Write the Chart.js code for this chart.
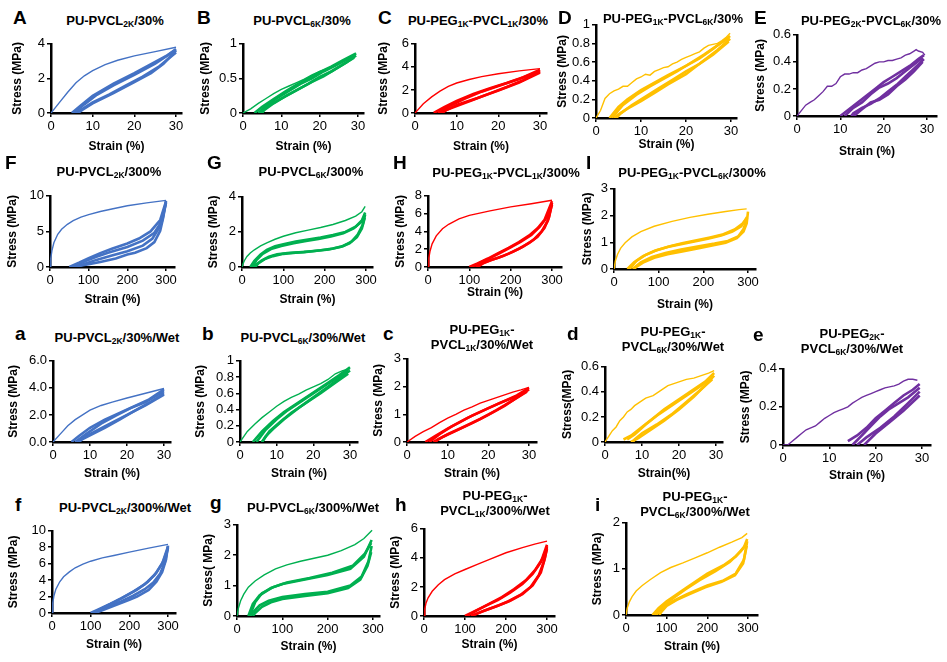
<!DOCTYPE html>
<html>
<head>
<meta charset="utf-8">
<script src="https://cdn.jsdelivr.net/npm/chart.js@4.4.1/dist/chart.umd.min.js"></script>
<style>
  body { margin: 0; width: 947px; height: 662px; background: #fff; position: relative; overflow: hidden; }
  canvas { position: absolute; }
  .ttl { position: absolute; transform: translate(-50%, -50%); font: bold 13px/15px "Liberation Sans", Arial, sans-serif; text-align: center; white-space: nowrap; color: #000; z-index: 2; }
  .ttl sub { font-size: 8.5px; line-height: 0; vertical-align: -2px; }
  .let { position: absolute; transform: translateY(-50%); font: bold 19px/19px "Liberation Sans", Arial, sans-serif; color: #000; z-index: 2; }
</style>
</head>
<body>
<script>
const FONT = '"Liberation Sans", Arial, sans-serif'
Chart.defaults.font.family = FONT

const BLUE = '#4472C4', GREEN = '#00B050', RED = '#FF0000', GOLD = '#FFC000', PURPLE = '#7030A0'

// tick labels
const x30 = ['0', '10', '20', '30']
const x300 = ['0', '100', '200', '300']
const A_y = ['0', '2', '4']
const B_y = ['0', '0.5', '1']
const C_y = ['0', '2', '4', '6']
const D_y = ['0', '0.2', '0.4', '0.6', '0.8', '1']
const E_y = ['0', '0.2', '0.4', '0.6']
const F_y = ['0', '5', '10']
const G_y = ['0', '2', '4']
const H_y = ['0', '2', '4', '6', '8']
const I_y = ['0', '1', '2', '3']
const a_y = ['0.0', '2.0', '4.0', '6.0']
const b_y = ['0', '0.2', '0.4', '0.6', '0.8', '1']
const c_y = ['0', '1', '2', '3']
const d_y = ['0', '0.2', '0.4', '0.6']
const e_y = ['0', '0.2', '0.4']
const f_y = ['0', '2', '4', '6', '8', '10']
const g_y = ['0', '1', '2', '3']
const h_y = ['0', '2', '4', '6']
const i_y = ['0', '1', '2']

// [strain %, stress MPa] - first loading, then later unload / reload cycles
const A_load = [[0,0],[2,0.6],[4,1.2],[6,1.75],[8,2.15],[10,2.45],[13,2.8],[16,3.05],[20,3.3],[25,3.55],[30,3.8]]
const A_unload = [[30,3.6],[27,2.85],[24,2.3],[20,1.78],[15,1.15],[10,0.56],[7.5,0.18],[6.5,0]]
const A_reload = [[5,0],[7,0.4],[10,1.0],[15,1.7],[20,2.3],[25,2.95],[28,3.35],[30,3.7]]
const A_unload2 = [[30,3.5],[26,2.7],[22,2.1],[18,1.6],[14,1.08],[10,0.62],[7,0.15],[6,0]]
const A_reload2 = [[5.5,0],[8,0.5],[11,1.05],[15,1.6],[20,2.2],[25,2.85],[30,3.65]]

const B_load = [[0,0],[2,0.06],[4,0.14],[6,0.21],[8,0.28],[10,0.34],[12,0.39],[14,0.44],[16,0.49],[18,0.55],[20,0.6],[22,0.64],[24,0.69],[26,0.74],[28,0.8],[29.5,0.86]]
const B_unload = [[29.5,0.83],[27,0.73],[24,0.63],[21,0.53],[18,0.45],[15,0.36],[12,0.27],[9,0.18],[6,0.08],[4.5,0]]
const B_reload = [[3,0],[5,0.09],[8,0.2],[11,0.31],[14,0.41],[17,0.5],[20,0.59],[23,0.67],[26,0.76],[29.5,0.86]]
const B_unload2 = [[29,0.8],[26,0.7],[23,0.6],[20,0.52],[17,0.42],[14,0.33],[11,0.24],[8,0.14],[5.5,0.04],[5,0]]
const B_reload2 = [[4,0],[6,0.1],[9,0.22],[12,0.32],[15,0.42],[18,0.5],[21,0.6],[24,0.68],[27,0.77],[29,0.82]]

const C_load = [[0,0],[2,0.8],[4,1.4],[6,1.9],[8,2.3],[10,2.6],[13,2.9],[16,3.15],[20,3.4],[25,3.65],[30,3.85]]
const C_unload = [[30,3.6],[26,2.85],[22,2.25],[18,1.7],[14,1.15],[10,0.6],[7,0.2],[6,0]]
const C_reload = [[4.5,0],[7,0.5],[10,1.05],[14,1.65],[18,2.15],[22,2.6],[26,3.1],[30,3.75]]
const C_unload2 = [[30,3.5],[25,2.65],[20,1.95],[15,1.3],[10,0.7],[7.5,0.25],[6.5,0]]
const C_reload2 = [[5.5,0],[8,0.55],[12,1.25],[16,1.85],[20,2.35],[25,2.95],[30,3.65]]

const D_load = [[0,0],[1,0.08],[2,0.21],[3,0.26],[4,0.29],[5,0.31],[6,0.34],[7,0.34],[8,0.38],[9,0.42],[10,0.44],[11,0.47],[12,0.46],[13,0.5],[14,0.52],[15,0.54],[16,0.55],[17,0.58],[18,0.6],[19,0.63],[20,0.65],[21,0.67],[22,0.69],[23,0.71],[24,0.75],[25,0.78],[26,0.79],[27,0.8],[28,0.83],[29,0.87],[29.8,0.91]]
const D_unload = [[29.8,0.85],[27,0.73],[24,0.62],[20,0.47],[16,0.36],[13,0.27],[10,0.18],[7,0.1],[5,0.04],[4,0]]
const D_reload = [[3,0],[5,0.12],[7,0.2],[10,0.3],[13,0.38],[16,0.46],[20,0.56],[23,0.64],[26,0.74],[29.8,0.88]]
const D_unload2 = [[29.5,0.82],[26,0.68],[23,0.58],[20,0.5],[17,0.41],[14,0.32],[11,0.23],[8,0.14],[5.5,0.05],[4.5,0]]
const D_reload2 = [[3.5,0],[6,0.14],[9,0.25],[12,0.34],[15,0.42],[18,0.5],[21,0.59],[24,0.68],[27,0.78],[29.5,0.86]]

const E_load = [[0,0],[1,0.04],[2,0.08],[3,0.1],[4,0.12],[5,0.15],[6,0.18],[7,0.22],[8,0.22],[9,0.24],[10,0.29],[11,0.31],[12,0.31],[13,0.32],[14,0.32],[15,0.34],[16,0.35],[17,0.37],[18,0.39],[19,0.4],[20,0.4],[21,0.41],[22,0.41],[23,0.42],[24,0.43],[25,0.45],[26,0.46],[27,0.48],[27.5,0.49],[28,0.48],[29,0.47],[29.5,0.45]]
const E_unload = [[29.3,0.42],[27,0.35],[25,0.29],[23,0.23],[21,0.18],[19,0.13],[17,0.09],[15,0.06],[13,0.02],[12.5,0]]
const E_reload = [[10,0],[12,0.05],[14,0.1],[16,0.15],[18,0.2],[20,0.25],[22,0.29],[24,0.33],[26,0.37],[28,0.42],[29.3,0.45]]
const E_unload2 = [[29,0.4],[27,0.33],[25,0.27],[23,0.22],[21,0.16],[19,0.12],[17,0.1],[15,0.05],[13.5,0.01],[13,0]]
const E_reload2 = [[11,0],[13,0.06],[15,0.1],[17,0.16],[19,0.21],[21,0.24],[23,0.28],[25,0.33],[27,0.38],[29,0.43]]

const F_load = [[0,0],[2,1.2],[5,2.3],[10,3.4],[20,4.6],[30,5.3],[45,6.0],[60,6.5],[80,7.0],[100,7.35],[130,7.8],[160,8.15],[200,8.6],[250,9.0],[300,9.35]]
const F_unload = [[300,9.3],[293,7.0],[285,5.1],[270,3.5],[250,2.65],[220,2.0],[200,1.75],[170,1.2],[130,0.7],[100,0.4],[70,0.1],[55,0]]
const F_reload = [[50,0],[75,0.6],[100,1.25],[130,1.95],[160,2.55],[200,3.3],[230,4.0],[260,5.0],[285,6.6],[300,9.2]]
const F_unload2 = [[300,9.1],[292,7.2],[282,5.5],[265,4.0],[240,3.0],[200,2.2],[160,1.6],[120,1.0],[90,0.45],[70,0]]
const F_reload2 = [[60,0],[90,0.8],[120,1.45],[150,2.0],[200,2.8],[240,3.7],[270,4.8],[290,6.5],[300,9.0]]

const G_load = [[0,0],[3,0.22],[6,0.37],[12,0.6],[20,0.8],[30,0.98],[45,1.2],[60,1.38],[80,1.58],[100,1.75],[130,1.95],[160,2.1],[190,2.25],[220,2.42],[250,2.65],[275,2.9],[290,3.15],[298,3.45]]
const G_unload = [[298,3.0],[292,2.4],[280,1.85],[265,1.45],[245,1.2],[220,1.05],[190,0.95],[150,0.85],[110,0.8],[85,0.72],[65,0.58],[48,0.38],[35,0.15],[28,0]]
const G_reload = [[20,0],[30,0.35],[45,0.72],[60,0.98],[80,1.18],[100,1.3],[130,1.45],[160,1.57],[190,1.68],[220,1.82],[250,2.0],[275,2.3],[290,2.65],[298,3.1]]
const G_unload2 = [[297,2.8],[290,2.2],[278,1.7],[260,1.35],[240,1.15],[210,1.0],[170,0.9],[130,0.82],[100,0.75],[75,0.62],[55,0.45],[40,0.22],[32,0]]
const G_reload2 = [[25,0],[35,0.4],[50,0.75],[70,1.02],[95,1.2],[125,1.35],[155,1.48],[185,1.6],[215,1.74],[245,1.92],[270,2.2],[288,2.55],[297,2.9]]

const H_load = [[0,0],[2,1.0],[5,1.8],[10,2.6],[20,3.5],[35,4.3],[50,4.8],[75,5.4],[100,5.8],[150,6.3],[200,6.75],[250,7.1],[300,7.5]]
const H_unload = [[300,7.2],[293,5.6],[282,4.4],[265,3.4],[245,2.7],[220,2.05],[195,1.5],[170,1.05],[150,0.75],[130,0.4],[115,0]]
const H_reload = [[100,0],[120,0.4],[145,0.95],[170,1.55],[195,2.15],[220,2.8],[245,3.55],[265,4.35],[282,5.3],[300,7.4]]
const H_unload2 = [[300,7.0],[290,5.2],[275,4.0],[255,3.05],[230,2.3],[205,1.7],[180,1.2],[155,0.8],[135,0.45],[120,0]]
const H_reload2 = [[105,0],[125,0.45],[150,1.0],[175,1.6],[200,2.2],[225,2.85],[250,3.6],[270,4.5],[288,5.6],[300,7.2]]

const I_load = [[0,0],[3,0.3],[8,0.55],[15,0.78],[25,0.98],[40,1.2],[60,1.4],[90,1.6],[130,1.78],[170,1.93],[210,2.05],[250,2.15],[280,2.22],[297,2.25]]
const I_unload = [[300,2.15],[297,1.7],[290,1.4],[275,1.15],[250,0.98],[220,0.88],[190,0.78],[150,0.65],[120,0.55],[90,0.42],[65,0.24],[50,0.08],[45,0]]
const I_reload = [[30,0],[45,0.25],[65,0.48],[90,0.67],[120,0.82],[150,0.93],[180,1.03],[210,1.13],[240,1.25],[265,1.4],[285,1.6],[298,1.95]]
const I_unload2 = [[298,1.9],[290,1.5],[278,1.22],[255,1.05],[225,0.95],[190,0.85],[150,0.73],[115,0.6],[85,0.45],[60,0.25],[45,0.05],[42,0]]
const I_reload2 = [[35,0],[50,0.3],[70,0.52],[95,0.7],[125,0.85],[155,0.97],[185,1.07],[215,1.18],[245,1.3],[270,1.48],[288,1.7],[298,1.9]]

const a_load = [[0,0],[2,0.6],[4,1.2],[6,1.65],[8,2.0],[10,2.35],[13,2.7],[16,2.95],[20,3.25],[25,3.6],[30,3.95]]
const a_unload = [[30,3.6],[26,2.9],[22,2.3],[18,1.65],[14,1.05],[10,0.5],[8,0.22],[7,0]]
const a_reload = [[5,0],[7,0.45],[10,1.05],[14,1.65],[18,2.15],[22,2.65],[26,3.15],[30,3.9]]
const a_unload2 = [[30,3.5],[25,2.7],[20,2.0],[15,1.3],[11,0.72],[8,0.3],[6.5,0]]
const a_reload2 = [[6,0],[9,0.6],[13,1.35],[17,1.95],[21,2.5],[25,2.95],[30,3.75]]

const b_load = [[0,0],[2,0.13],[4,0.22],[6,0.3],[8,0.37],[10,0.44],[12,0.5],[14,0.55],[16,0.59],[18,0.64],[20,0.68],[22,0.72],[24,0.77],[26,0.84],[28,0.88],[30,0.9]]
const b_unload = [[30,0.88],[27,0.78],[24,0.68],[20,0.55],[16,0.42],[12,0.28],[9,0.16],[7,0.07],[6,0]]
const b_reload = [[3.5,0],[6,0.13],[9,0.26],[12,0.37],[16,0.49],[20,0.61],[24,0.73],[27,0.82],[30,0.92]]
const b_unload2 = [[29.5,0.84],[26,0.73],[22,0.6],[18,0.48],[14,0.36],[11,0.25],[8,0.13],[6.5,0.03],[6,0]]
const b_reload2 = [[4.5,0],[7,0.15],[10,0.28],[13,0.39],[17,0.51],[21,0.63],[25,0.75],[29.5,0.88]]

const c_load = [[0,0],[2,0.2],[4,0.37],[6,0.52],[8,0.7],[10,0.86],[12,1.0],[14,1.15],[16,1.27],[18,1.4],[20,1.5],[22,1.6],[24,1.7],[26,1.8],[28,1.88],[30,1.97]]
const c_unload = [[30,1.9],[27,1.6],[24,1.3],[20,0.98],[16,0.68],[12,0.4],[9,0.2],[6.5,0]]
const c_reload = [[4.5,0],[7,0.22],[10,0.48],[13,0.72],[16,0.95],[20,1.22],[24,1.48],[27,1.68],[30,1.95]]
const c_unload2 = [[29.5,1.82],[26,1.5],[22,1.15],[18,0.83],[14,0.55],[10,0.28],[7.5,0.08],[7,0]]
const c_reload2 = [[5.5,0],[8,0.28],[11,0.56],[15,0.88],[19,1.15],[23,1.42],[27,1.65],[29.5,1.88]]

const d_load = [[0,0],[2,0.09],[3,0.12],[4,0.17],[5,0.2],[6,0.24],[7,0.26],[8,0.29],[9,0.31],[10,0.33],[11,0.35],[12,0.36],[13,0.37],[14,0.39],[15,0.41],[16,0.43],[17,0.45],[18,0.46],[19,0.47],[20,0.48],[22,0.5],[24,0.51],[26,0.53],[28,0.55],[29.5,0.57]]
const d_unload = [[29.5,0.53],[27,0.45],[24,0.36],[20,0.26],[16,0.17],[12,0.09],[9,0.03],[7,0]]
const d_reload = [[5,0.02],[7,0.05],[10,0.12],[13,0.19],[16,0.26],[20,0.34],[24,0.42],[27,0.48],[29.5,0.55]]
const d_unload2 = [[29,0.5],[26,0.42],[22,0.32],[18,0.22],[14,0.14],[10,0.07],[8,0.02],[7.5,0]]
const d_reload2 = [[6,0.02],[8,0.06],[11,0.14],[14,0.21],[18,0.29],[22,0.37],[26,0.45],[29,0.52]]

const e_load = [[0,0],[1,0],[2,0.02],[3,0.04],[4,0.06],[5,0.08],[6,0.09],[7,0.1],[8,0.12],[9,0.14],[10,0.155],[11,0.17],[12,0.18],[13,0.19],[14,0.2],[15,0.22],[16,0.235],[17,0.25],[18,0.26],[19,0.27],[20,0.28],[21,0.29],[22,0.3],[23,0.305],[24,0.31],[25,0.32],[26,0.335],[27,0.345],[28,0.345],[29,0.34]]
const e_unload = [[29.5,0.28],[27,0.22],[24,0.15],[21,0.09],[18,0.04],[16,0]]
const e_reload = [[14,0.02],[16,0.05],[18,0.09],[20,0.14],[22,0.18],[24,0.22],[26,0.26],[28,0.29],[29.5,0.32]]
const e_unload2 = [[29.5,0.26],[26,0.18],[23,0.12],[20,0.06],[17.5,0]]
const e_reload2 = [[15,0],[17,0.05],[19,0.1],[21,0.15],[23,0.19],[25,0.22],[27,0.25],[29.5,0.3]]

const f_load = [[0,0],[2,1.2],[5,2.1],[10,2.9],[20,3.8],[30,4.4],[45,5.0],[60,5.5],[80,5.95],[100,6.3],[130,6.7],[160,7.0],[200,7.4],[250,7.9],[300,8.35]]
const f_unload = [[300,8.2],[295,6.5],[285,5.0],[270,3.8],[250,2.8],[220,2.0],[200,1.6],[170,1.05],[140,0.5],[120,0.15],[115,0]]
const f_reload = [[100,0],[120,0.45],[150,1.1],[180,1.8],[210,2.6],[240,3.5],[265,4.6],[285,6.0],[300,8.1]]
const f_unload2 = [[300,8.0],[292,6.2],[280,4.8],[262,3.7],[240,2.9],[210,2.1],[180,1.45],[150,0.85],[125,0.35],[110,0]]
const f_reload2 = [[105,0],[130,0.6],[160,1.3],[190,2.05],[220,2.85],[248,3.8],[270,4.9],[288,6.3],[300,7.9]]

const g_load = [[0,0],[3,0.25],[8,0.5],[15,0.72],[25,0.95],[40,1.15],[60,1.35],[85,1.55],[110,1.68],[140,1.8],[170,1.9],[200,2.0],[230,2.15],[260,2.35],[280,2.55],[298,2.82]]
const g_unload = [[297,2.3],[290,1.8],[275,1.3],[250,1.0],[200,0.8],[150,0.72],[100,0.62],[70,0.5],[50,0.35],[35,0.12],[30,0]]
const g_reload = [[25,0],[35,0.4],[50,0.68],[75,0.92],[100,1.05],[150,1.2],[200,1.35],[250,1.55],[280,1.95],[297,2.5]]
const g_unload2 = [[296,2.1],[288,1.65],[272,1.2],[245,0.92],[200,0.75],[150,0.66],[100,0.56],[75,0.45],[55,0.3],[40,0.1],[35,0]]
const g_reload2 = [[28,0],[40,0.45],[55,0.75],[80,0.95],[110,1.1],[160,1.25],[210,1.42],[255,1.65],[282,2.05],[296,2.4]]

const h_load = [[0,0],[2,0.5],[5,0.9],[10,1.25],[20,1.7],[35,2.15],[50,2.5],[75,2.9],[100,3.2],[130,3.55],[160,3.9],[200,4.35],[240,4.7],[270,4.95],[300,5.15]]
const h_unload = [[300,4.8],[295,4.0],[285,3.0],[265,2.1],[240,1.5],[210,1.05],[180,0.7],[150,0.4],[125,0.12],[115,0]]
const h_reload = [[100,0],[125,0.35],[150,0.7],[180,1.1],[210,1.6],[240,2.2],[265,2.9],[285,3.7],[300,4.9]]
const h_unload2 = [[300,4.6],[292,3.7],[280,2.8],[260,2.0],[235,1.45],[205,1.0],[175,0.65],[145,0.35],[120,0.05],[118,0]]
const h_reload2 = [[105,0],[130,0.4],[160,0.85],[190,1.3],[220,1.85],[250,2.5],[272,3.2],[290,4.0],[300,4.7]]

const i_load = [[0,0],[3,0.15],[8,0.28],[15,0.4],[25,0.52],[40,0.64],[60,0.77],[85,0.92],[110,1.03],[140,1.13],[170,1.24],[200,1.35],[230,1.47],[260,1.58],[285,1.68],[298,1.77]]
const i_unload = [[298,1.6],[290,1.2],[270,0.9],[240,0.75],[200,0.64],[150,0.45],[120,0.32],[100,0.22],[85,0.12],[75,0]]
const i_reload = [[65,0],[80,0.15],[100,0.3],[125,0.45],[150,0.6],[200,0.9],[240,1.08],[270,1.27],[290,1.47],[298,1.65]]
const i_unload2 = [[297,1.5],[288,1.12],[268,0.86],[235,0.72],[195,0.6],[155,0.45],[125,0.33],[100,0.2],[88,0.08],[82,0]]
const i_reload2 = [[70,0],[90,0.2],[115,0.36],[145,0.55],[180,0.75],[220,0.95],[255,1.15],[282,1.38],[297,1.55]]

const panels = [
  { letter: 'A', at: [13, 17], title: 'PU-PVCL<sub>2K</sub>/30%', tAt: [115, 20], color: BLUE,
    curves: [A_load, A_unload, A_reload, A_unload2, A_reload2], x: x30, y: A_y, box: [51, 42, 113, 176, 182], yOff: 34, xOff: 34 },
  { letter: 'B', at: [197, 17], title: 'PU-PVCL<sub>6K</sub>/30%', tAt: [302, 20], color: GREEN,
    curves: [B_load, B_unload, B_reload, B_unload2, B_reload2], x: x30, y: B_y, box: [243, 42, 113, 358, 364], yOff: 38, xOff: 34 },
  { letter: 'C', at: [378, 17], title: 'PU-PEG<sub>1K</sub>-PVCL<sub>1K</sub>/30%', tAt: [478, 20], color: RED,
    curves: [C_load, C_unload, C_reload, C_unload2, C_reload2], x: x30, y: C_y, box: [415, 42, 113, 540, 547], yOff: 32, xOff: 34 },
  { letter: 'D', at: [558, 17], title: 'PU-PEG<sub>1K</sub>-PVCL<sub>6K</sub>/30%', tAt: [673, 18], color: GOLD,
    curves: [D_load, D_unload, D_reload, D_unload2, D_reload2], x: x30, y: D_y, box: [596, 23, 118, 731, 737], yOff: 34, xOff: 27 },
  { letter: 'E', at: [754, 17], title: 'PU-PEG<sub>2K</sub>-PVCL<sub>6K</sub>/30%', tAt: [871, 20], color: PURPLE,
    curves: [E_load, E_unload, E_reload, E_unload2, E_reload2], x: x30, y: E_y, box: [797, 33, 116, 927, 937], yOff: 37, xOff: 36 },
  { letter: 'F', at: [5, 162], title: 'PU-PVCL<sub>2K</sub>/300%', tAt: [109, 171], color: BLUE,
    curves: [F_load, F_unload, F_reload, F_unload2, F_reload2], x: x300, y: F_y, box: [50, 194, 267, 166, 175], yOff: 38, xOff: 33 },
  { letter: 'G', at: [207, 162], title: 'PU-PVCL<sub>6K</sub>/300%', tAt: [311, 171], color: GREEN,
    curves: [G_load, G_unload, G_reload, G_unload2, G_reload2], x: x300, y: G_y, box: [242, 195, 267, 366, 373], yOff: 29, xOff: 33 },
  { letter: 'H', at: [393, 162], title: 'PU-PEG<sub>1K</sub>-PVCL<sub>1K</sub>/300%', tAt: [506, 172], color: RED,
    curves: [H_load, H_unload, H_reload, H_unload2, H_reload2], x: x300, y: H_y, box: [428, 194, 267, 552, 562], yOff: 28, xOff: 26 },
  { letter: 'I', at: [586, 162], title: 'PU-PEG<sub>1K</sub>-PVCL<sub>6K</sub>/300%', tAt: [692, 172], color: GOLD,
    curves: [I_load, I_unload, I_reload, I_unload2, I_reload2], x: x300, y: I_y, box: [614, 187, 269, 748, 756], yOff: 27, xOff: 36 },
  { letter: 'a', at: [15, 333], title: 'PU-PVCL<sub>2K</sub>/30%/Wet', tAt: [117, 337], color: BLUE,
    curves: [a_load, a_unload, a_reload, a_unload2, a_reload2], x: x30, y: a_y, box: [53, 359, 442, 164, 171], yOff: 40, xOff: 32 },
  { letter: 'b', at: [202, 333], title: 'PU-PVCL<sub>6K</sub>/30%/Wet', tAt: [303, 337], color: GREEN,
    curves: [b_load, b_unload, b_reload, b_unload2, b_reload2], x: x30, y: b_y, box: [240, 359, 442, 350, 358], yOff: 40, xOff: 32 },
  { letter: 'c', at: [383, 333], title: 'PU-PEG<sub>1K</sub>-<br>PVCL<sub>1K</sub>/30%/Wet', tAt: [482, 337], color: RED,
    curves: [c_load, c_unload, c_reload, c_unload2, c_reload2], x: x30, y: c_y, box: [407, 357, 442, 529, 537], yOff: 29, xOff: 32 },
  { letter: 'd', at: [567, 333], title: 'PU-PEG<sub>1K</sub>-<br>PVCL<sub>6K</sub>/30%/Wet', tAt: [673, 339], color: GOLD, yTitle: 'Stress(MPa)', xTitle: 'Strain(%)',
    curves: [d_load, d_unload, d_reload, d_unload2, d_reload2], x: x30, y: d_y, box: [605, 365, 442, 716, 723], yOff: 38, xOff: 32 },
  { letter: 'e', at: [753, 334], title: 'PU-PEG<sub>2K</sub>-<br>PVCL<sub>6K</sub>/30%/Wet', tAt: [852, 341], color: PURPLE,
    curves: [e_load, e_unload, e_reload, e_unload2, e_reload2], x: x30, y: e_y, box: [783, 367, 445, 922, 931], yOff: 38, xOff: 31 },
  { letter: 'f', at: [15, 504], title: 'PU-PVCL<sub>2K</sub>/300%/Wet', tAt: [125, 507], color: BLUE,
    curves: [f_load, f_unload, f_reload, f_unload2, f_reload2], x: x300, y: f_y, box: [52, 529, 613, 168, 176], yOff: 39, xOff: 32 },
  { letter: 'g', at: [210, 502], title: 'PU-PVCL<sub>6K</sub>/300%/Wet', tAt: [313, 507], color: GREEN, yTitle: 'Stress( MPa)',
    curves: [g_load, g_unload, g_reload, g_unload2, g_reload2], x: x300, y: g_y, box: [237, 523, 616, 373, 380], yOff: 29, xOff: 31 },
  { letter: 'h', at: [395, 504], title: 'PU-PEG<sub>1K</sub>-<br>PVCL<sub>1K</sub>/300%/Wet', tAt: [495, 503], color: RED,
    curves: [h_load, h_unload, h_reload, h_unload2, h_reload2], x: x300, y: h_y, box: [424, 527, 616, 547, 555], yOff: 29, xOff: 29 },
  { letter: 'i', at: [595, 504], title: 'PU-PEG<sub>1K</sub>-<br>PVCL<sub>6K</sub>/300%/Wet', tAt: [695, 504], color: GOLD,
    curves: [i_load, i_unload, i_reload, i_unload2, i_reload2], x: x300, y: i_y, box: [626, 521, 615, 748, 758], yOff: 29, xOff: 32 }
]

function axis(max, labels, title, fit) {
  const vals = labels.map(Number)
  return {
    type: 'linear', min: 0, max,
    afterBuildTicks: s => { s.ticks = vals.map(v => ({ value: v })) },
    afterFit: fit,
    ticks: { color: '#000', font: { size: 13 }, padding: 2, autoSkip: false, maxRotation: 0,
      callback: (v, i) => labels[i] },
    grid: { drawOnChartArea: false, color: '#000', lineWidth: 1.5, tickLength: 4 },
    border: { color: '#000', width: 2.5 },
    title: { display: true, text: title, color: '#000', font: { size: 12, weight: 'bold' }, padding: 0 }
  }
}

function addText(html, cls, x, y) {
  const el = document.createElement('div')
  el.className = cls
  el.innerHTML = html
  el.style.left = x + 'px'
  el.style.top = y + 'px'
  document.body.appendChild(el)
}

function draw(p) {
  const [left, top, bottom, tickPx, right] = p.box
  const yw = p.yOff + 7, xh = p.xOff + 7, pt = 8, pr = 12
  const w = right - left + yw + pr, h = bottom - top + pt + xh
  const cv = document.createElement('canvas')
  cv.width = w
  cv.height = h
  cv.style.left = (left - yw) + 'px'
  cv.style.top = (top - pt) + 'px'
  document.body.appendChild(cv)

  const xTop = Number(p.x[p.x.length - 1])
  const xMax = xTop * (right - left) / (tickPx - left)
  const yMax = Number(p.y[p.y.length - 1])

  const sets = p.curves.map((c, i) => ({
    data: c.map(([x, y]) => ({ x, y })),
    borderColor: p.color,
    borderWidth: i === 0 ? 1.4 : 2.6,
    showLine: true, pointRadius: 0, tension: 0, fill: false
  }))

  new Chart(cv, {
    type: 'scatter',
    data: { datasets: sets },
    options: {
      responsive: false, animation: false, events: [],
      layout: { padding: { top: pt, right: pr, left: 0, bottom: 0 } },
      plugins: { legend: { display: false }, tooltip: { enabled: false } },
      scales: {
        x: axis(xMax, p.x, p.xTitle || 'Strain (%)', s => { s.height = xh }),
        y: axis(yMax, p.y, p.yTitle || 'Stress (MPa)', s => { s.width = yw })
      }
    }
  })

  addText(p.letter, 'let', p.at[0], p.at[1])
  addText(p.title, 'ttl', p.tAt[0], p.tAt[1])
}

panels.forEach(draw)
</script>
</body>
</html>
